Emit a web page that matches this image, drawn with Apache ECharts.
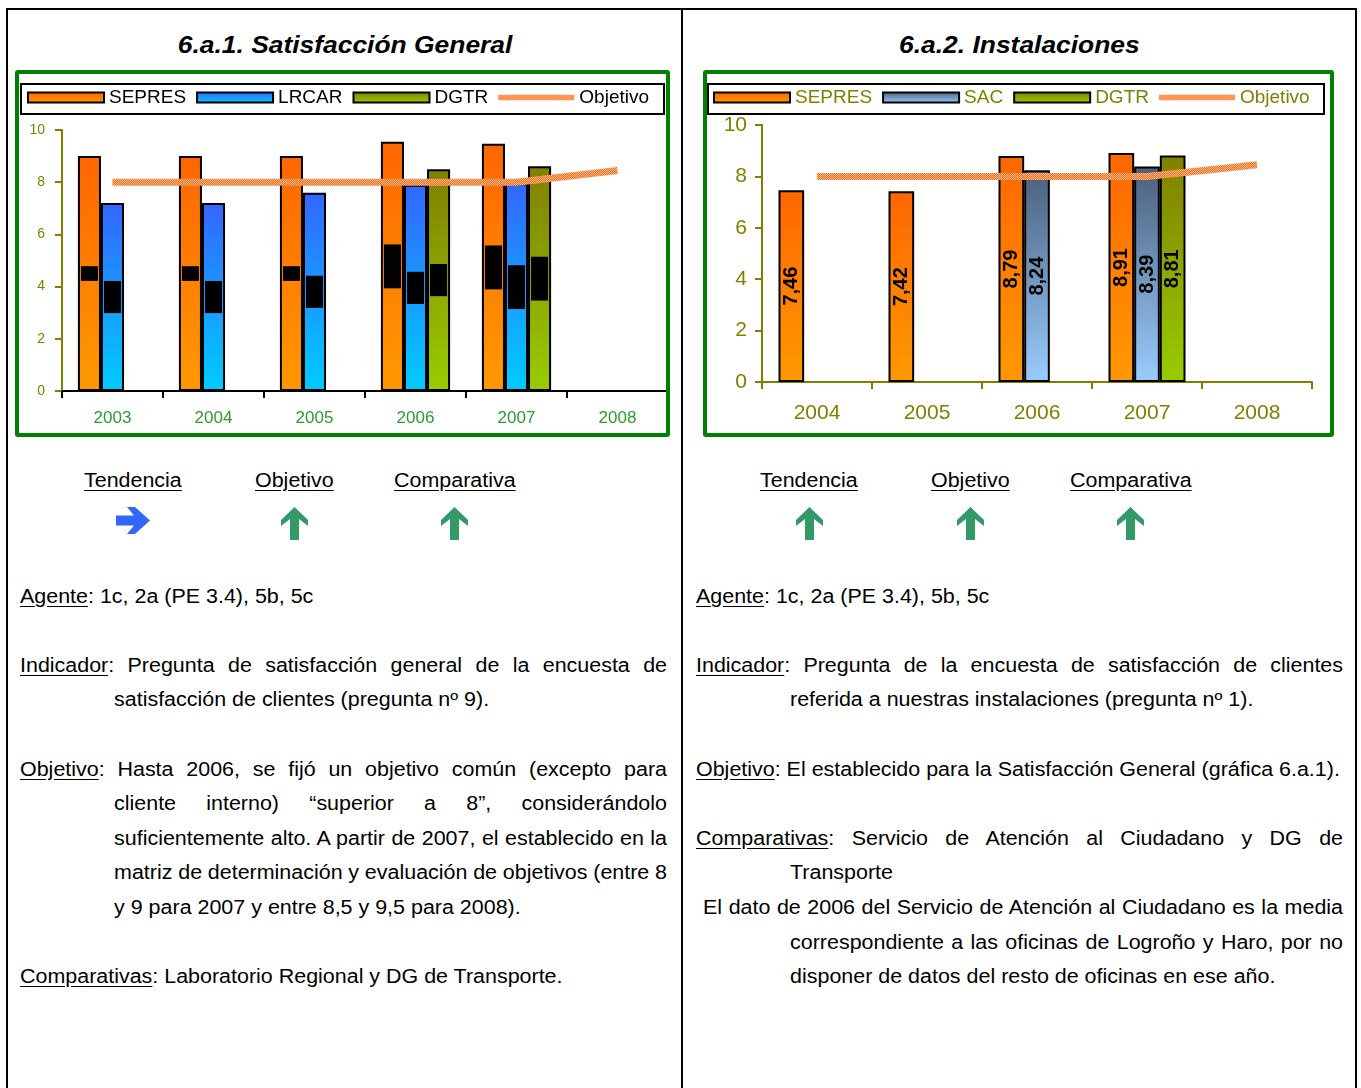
<!DOCTYPE html>
<html lang="es">
<head>
<meta charset="utf-8">
<title>6.a Satisfacción de clientes</title>
<script src="https://cdn.jsdelivr.net/npm/echarts@6/dist/echarts.min.js"></script>
<style>
  html, body { margin: 0; padding: 0; background: #fff; }
  body { width: 1361px; height: 1088px; position: relative; overflow: hidden;
         font-family: 'Liberation Sans', Arial, sans-serif; color: #000; }
  .vline { position: absolute; top: 8px; bottom: 0; width: 2px; background: #000; }
  .hline { position: absolute; left: 6px; width: 1351px; top: 8px; height: 2px; background: #000; }
  .title { position: absolute; top: 30px; width: 674px; text-align: center; line-height: 30px;
           font-weight: bold; font-style: italic; font-size: 24px; }
  .title span { display: inline-block; transform: scaleX(1.1); }
  .chart { position: absolute; top: 70px; height: 367px; }
  .frame { position: absolute; top: 70px; height: 367px; border: 4px solid #008000;
           border-radius: 3px; box-sizing: border-box; pointer-events: none; }
  .head { position: absolute; top: 463px; font-size: 19.5px; line-height: 34.6px;
          transform: scaleX(1.1); transform-origin: 0 0; white-space: nowrap; }
  .arrow { position: absolute; }
  .block { position: absolute; top: 578.7px; width: 588.2px; font-size: 19.5px; line-height: 34.6px;
           transform: scaleX(1.1); transform-origin: 0 0; }
  .row { height: 34.6px; white-space: nowrap; }
  .row.j { white-space: normal; text-align: justify; text-align-last: justify; word-spacing: -3px; }
  .ind { padding-left: 85.5px; }
  u { text-underline-offset: 3px; }
</style>
</head>
<body>
<div class="hline"></div>
<div class="vline" style="left:6px"></div>
<div class="vline" style="left:681px"></div>
<div class="vline" style="left:1355px"></div>

<div class="title" style="left:8px"><span>6.a.1. Satisfacción General</span></div>
<div class="title" style="left:682px"><span>6.a.2. Instalaciones</span></div>

<div id="chartGeneral" class="chart" style="left:15px;width:655px"></div>
<div class="frame" style="left:15px;width:655px"></div>
<div id="chartInstal" class="chart" style="left:703px;width:631px"></div>
<div class="frame" style="left:703px;width:631px"></div>

<!-- Tendencia / Objetivo / Comparativa indicators -->
<div class="head" style="left:84px"><u>Tendencia</u></div>
<div class="head" style="left:255px"><u>Objetivo</u></div>
<div class="head" style="left:394px"><u>Comparativa</u></div>
<div class="head" style="left:760px"><u>Tendencia</u></div>
<div class="head" style="left:931px"><u>Objetivo</u></div>
<div class="head" style="left:1070px"><u>Comparativa</u></div>

<svg class="arrow" style="left:116px;top:507px" width="34" height="27" viewBox="0 0 34 27">
  <polygon fill="#3366ff" points="0,8.5 18,8.5 11,0 19,0 34,13.5 19,27 11,27 18,18.5 0,18.5"/>
</svg>
<svg class="arrow" style="left:281px;top:507px" width="27" height="33" viewBox="0 0 27 33">
  <polygon fill="#339966" points="13.5,0 27,13 27,19 18,12 18,33 9,33 9,12 0,19 0,13"/>
</svg>
<svg class="arrow" style="left:441px;top:507px" width="27" height="33" viewBox="0 0 27 33">
  <polygon fill="#339966" points="13.5,0 27,13 27,19 18,12 18,33 9,33 9,12 0,19 0,13"/>
</svg>
<svg class="arrow" style="left:796px;top:507px" width="27" height="33" viewBox="0 0 27 33">
  <polygon fill="#339966" points="13.5,0 27,13 27,19 18,12 18,33 9,33 9,12 0,19 0,13"/>
</svg>
<svg class="arrow" style="left:957px;top:507px" width="27" height="33" viewBox="0 0 27 33">
  <polygon fill="#339966" points="13.5,0 27,13 27,19 18,12 18,33 9,33 9,12 0,19 0,13"/>
</svg>
<svg class="arrow" style="left:1117px;top:507px" width="27" height="33" viewBox="0 0 27 33">
  <polygon fill="#339966" points="13.5,0 27,13 27,19 18,12 18,33 9,33 9,12 0,19 0,13"/>
</svg>

<div class="block" style="left:20px">
  <div class="row"><u>Agente</u>: 1c, 2a (PE 3.4), 5b, 5c</div>
  <div class="row"></div>
  <div class="row j"><u>Indicador</u>: Pregunta de satisfacción general de la encuesta de</div>
  <div class="row ind">satisfacción de clientes (pregunta nº 9).</div>
  <div class="row"></div>
  <div class="row j"><u>Objetivo</u>: Hasta 2006, se fijó un objetivo común (excepto para</div>
  <div class="row j ind">cliente interno) “superior a 8”, considerándolo</div>
  <div class="row j ind">suficientemente alto. A partir de 2007, el establecido en la</div>
  <div class="row j ind">matriz de determinación y evaluación de objetivos (entre 8</div>
  <div class="row ind">y 9 para 2007 y entre 8,5 y 9,5 para 2008).</div>
  <div class="row"></div>
  <div class="row"><u>Comparativas</u>: Laboratorio Regional y DG de Transporte.</div>
</div>

<div class="block" style="left:696px">
  <div class="row"><u>Agente</u>: 1c, 2a (PE 3.4), 5b, 5c</div>
  <div class="row"></div>
  <div class="row j"><u>Indicador</u>: Pregunta de la encuesta de satisfacción de clientes</div>
  <div class="row ind">referida a nuestras instalaciones (pregunta nº 1).</div>
  <div class="row"></div>
  <div class="row"><u>Objetivo</u>: El establecido para la Satisfacción General (gráfica 6.a.1).</div>
  <div class="row"></div>
  <div class="row j"><u>Comparativas</u>: Servicio de Atención al Ciudadano y DG de</div>
  <div class="row ind">Transporte</div>
  <div class="row j" style="padding-left:6.4px">El dato de 2006 del Servicio de Atención al Ciudadano es la media</div>
  <div class="row j ind">correspondiente a las oficinas de Logroño y Haro, por no</div>
  <div class="row ind">disponer de datos del resto de oficinas en ese año.</div>
</div>

<script>
// 6.a.1 Satisfacción General
const yearsGeneral = ['2003', '2004', '2005', '2006', '2007', '2008'];
const sepresGeneral = [9.0, 9.0, 9.0, 9.55, 9.47, null];
const lrcarGeneral = [7.2, 7.2, 7.6, 7.9, 7.96, null];
const dgtrGeneral = [null, null, null, 8.5, 8.61, null];
const objetivoGeneral = [8, 8, 8, 8, 8, 8.45];

// 6.a.2 Instalaciones
const yearsInstal = ['2004', '2005', '2006', '2007', '2008'];
const sepresInstal = [7.46, 7.42, 8.79, 8.91, null];
const sacInstal = [null, null, 8.24, 8.39, null];
const dgtrInstal = [null, null, null, 8.81, null];
const objetivoInstal = [8, 8, 8, 8, 8.45];

// value axis: 0..10, step 2
const yMin = 0, yMax = 10, yStep = 2;

const FONT = "'Liberation Sans', Arial, sans-serif";
const OLIVE = '#808000';

function grad(top, bottom) {
  return new echarts.graphic.LinearGradient(0, 0, 0, 1, [
    { offset: 0, color: top }, { offset: 1, color: bottom }
  ]);
}

// dotted orange texture of the target line
function objetivoTexture() {
  const c = document.createElement('canvas');
  c.width = 2; c.height = 2;
  const g = c.getContext('2d');
  g.fillStyle = '#ffbe96'; g.fillRect(0, 0, 2, 2);
  g.fillStyle = '#ff6a10'; g.fillRect(0, 0, 1, 1); g.fillRect(1, 1, 1, 1);
  return { image: c, repeat: 'repeat' };
}

const comma = v => String(v).replace('.', ',');

function bar(name, data, top, bottom, label, gap) {
  return {
    name, type: 'bar', data, barGap: '0%', barCategoryGap: gap,
    itemStyle: { color: grad(top, bottom), borderColor: '#000', borderWidth: 2 },
    label, z: 2
  };
}

function line(data) {
  return {
    name: 'Objetivo', type: 'line', data, symbol: 'none', silent: true, z: 5,
    lineStyle: { width: 7, color: objetivoTexture(), cap: 'butt' },
    itemStyle: { color: '#ff9a66' }
  };
}

function legendBox(x, y, w, h) {
  return {
    type: 'rect', left: x, top: y, z: 0, silent: true,
    shape: { width: w, height: h },
    style: { fill: '#fff', stroke: '#000', lineWidth: 2 }
  };
}

// thin textured strip for the target line, boxed rectangles for the bars
function legendData(names) {
  return names.map(n => n === 'Objetivo'
    ? { name: n, icon: 'path://M0,0H80V6H0Z', itemStyle: { color: objetivoTexture(), borderWidth: 0 } }
    : { name: n, icon: 'rect' });
}

// ---------- chart 6.a.1 ----------
const hiddenLabel = {
  show: true, position: 'inside', rotate: 90,
  color: '#000', backgroundColor: '#000', textBorderWidth: 0,
  fontFamily: FONT, fontSize: 21, lineHeight: 17, padding: [0, 1.5],
  formatter: p => comma(p.value)
};

const chartA = echarts.init(document.getElementById('chartGeneral'), null, { renderer: 'canvas' });
chartA.setOption({
  animation: false,
  textStyle: { fontFamily: FONT },
  graphic: [legendBox(5, 13, 643, 30)],
  legend: {
    left: 12, top: 18, padding: 0, itemWidth: 76, itemHeight: 10, itemGap: 10,
    textStyle: { fontSize: 19, color: '#000', fontFamily: FONT },
    itemStyle: { borderColor: '#000', borderWidth: 2 },
    data: legendData(['SEPRES', 'LRCAR', 'DGTR', 'Objetivo']), selectedMode: false
  },
  grid: { left: 47, right: 2, top: 60, bottom: 46, outerBoundsMode: 'none' },
  xAxis: {
    type: 'category', data: yearsGeneral, boundaryGap: true,
    axisLine: { lineStyle: { color: '#000', width: 2 } },
    axisTick: { show: true, length: 7, lineStyle: { color: '#000', width: 2 } },
    axisLabel: { color: '#2e9b2e', fontSize: 17, margin: 19, fontFamily: FONT }
  },
  yAxis: {
    type: 'value', min: yMin, max: yMax, interval: yStep,
    axisLine: { show: true, lineStyle: { color: OLIVE, width: 2 } },
    axisTick: { show: true, length: 7, lineStyle: { color: OLIVE, width: 2 } },
    splitLine: { show: false },
    axisLabel: { color: OLIVE, fontSize: 14, margin: 17, fontFamily: FONT }
  },
  series: [
    bar('SEPRES', sepresGeneral, '#ff6600', '#ff9900', hiddenLabel, '31.5%'),
    bar('LRCAR', lrcarGeneral, '#3366ff', '#00ccff', hiddenLabel, '31.5%'),
    bar('DGTR', dgtrGeneral, '#808000', '#99cc00', hiddenLabel, '31.5%'),
    line(objetivoGeneral)
  ]
});

// ---------- chart 6.a.2 ----------
const valueLabel = {
  show: true, position: 'inside', rotate: 90,
  color: '#000', textBorderWidth: 0, fontWeight: 'bold',
  fontFamily: FONT, fontSize: 20,
  formatter: p => p.value.toFixed(2).replace('.', ',')
};

const chartB = echarts.init(document.getElementById('chartInstal'), null, { renderer: 'canvas' });
chartB.setOption({
  animation: false,
  textStyle: { fontFamily: FONT },
  graphic: [legendBox(4, 13, 616, 30)],
  legend: {
    left: 10, top: 18, padding: 0, itemWidth: 76, itemHeight: 10, itemGap: 10,
    textStyle: { fontSize: 19, color: OLIVE, fontFamily: FONT },
    itemStyle: { borderColor: '#000', borderWidth: 2 },
    data: legendData(['SEPRES', 'SAC', 'DGTR', 'Objetivo']), selectedMode: false
  },
  grid: { left: 59, right: 22, top: 55, bottom: 55, outerBoundsMode: 'none' },
  xAxis: {
    type: 'category', data: yearsInstal, boundaryGap: true,
    axisLine: { lineStyle: { color: OLIVE, width: 2 } },
    axisTick: { show: true, length: 7, lineStyle: { color: OLIVE, width: 2 } },
    axisLabel: { color: OLIVE, fontSize: 21, margin: 21, fontFamily: FONT }
  },
  yAxis: {
    type: 'value', min: yMin, max: yMax, interval: yStep,
    axisLine: { show: true, lineStyle: { color: OLIVE, width: 2 } },
    axisTick: { show: true, length: 7, lineStyle: { color: OLIVE, width: 2 } },
    splitLine: { show: false },
    axisLabel: { color: OLIVE, fontSize: 21, margin: 15, fontFamily: FONT }
  },
  series: [
    bar('SEPRES', sepresInstal, '#ff6600', '#ff9900', valueLabel, '30%'),
    bar('SAC', sacInstal, '#4a607c', '#99ccff', valueLabel, '30%'),
    bar('DGTR', dgtrInstal, '#808000', '#99cc00', valueLabel, '30%'),
    line(objetivoInstal)
  ]
});
</script>
</body>
</html>
